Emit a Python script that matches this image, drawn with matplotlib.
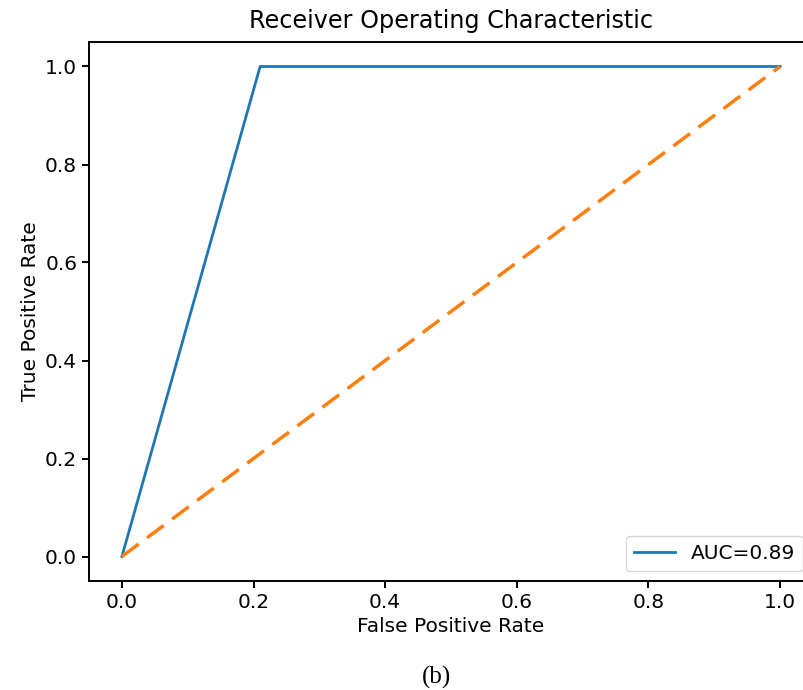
import matplotlib.pyplot as plt

# ROC curve points
fpr = [0.0, 0.21, 1.0]
tpr = [0.0, 1.0, 1.0]
auc_value = 0.89

# chance line
diag_x = [0, 1]
diag_y = [0, 1]

fig = plt.figure(figsize=(8.04, 6.9), dpi=100)
# right side of the original figure is cropped, so the axes run past the edge
ax = fig.add_axes([89 / 804, 1 - 581 / 690, 724 / 804, 539 / 690])

ax.plot(fpr, tpr, color="#1f77b4", linewidth=2.0, label="AUC=%.2f" % auc_value)
ax.plot(diag_x, diag_y, color="#ff7f0e", linestyle=(0, (6, 3)), linewidth=2.5)

ax.set_title("Receiver Operating Characteristic", fontsize=17.2, pad=10)
ax.set_xlabel("False Positive Rate", fontsize=14.5)
ax.set_ylabel("True Positive Rate", fontsize=14.5)
ax.tick_params(labelsize=14.5, width=1.4, length=5)
for s in ax.spines.values():
    s.set_linewidth(1.4)
ax.legend(loc="lower right", fontsize=14.5)

fig.text(437 / 804, 1 - 677 / 690, "(b)", family="Liberation Serif",
         fontsize=18, ha="center", va="center")

fig.savefig("out.png", dpi=100)
